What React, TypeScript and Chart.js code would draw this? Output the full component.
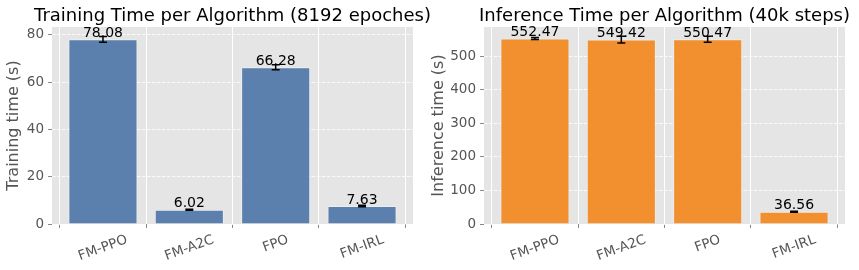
import React, { useEffect, useRef } from 'react';
import { Chart, registerables } from 'chart.js';

Chart.register(...registerables);

const categories = ['FM-PPO', 'FM-A2C', 'FPO', 'FM-IRL'];

const trainTimes = [78.08, 6.02, 66.28, 7.63];
const trainErrors = [1.2, 0.2, 1.1, 0.3];
const trainTicks = [0, 20, 40, 60, 80];
const trainYMax = 83.3;
const trainTitle = 'Training Time per Algorithm (8192 epoches)';
const trainYLabel = 'Training time (s)';

const inferTimes = [552.47, 549.42, 550.47, 36.56];
const inferErrors = [3, 10, 9, 1.5];
const inferTicks = [0, 100, 200, 300, 400, 500];
const inferYMax = 587;
const inferTitle = 'Inference Time per Algorithm (40k steps)';
const inferYLabel = 'Inference time (s)';

const FONT = "'DejaVu Sans', sans-serif";
const TICK_SIZE = 13.5;
const GRAY = '#555555';

type PanelProps = {
  width: number;
  height: number;
  values: number[];
  errors: number[];
  yTicks: number[];
  yMax: number;
  title: string;
  yLabel: string;
  color: string;
  yAxisWidth: number;
  rightPad: number;
  yLabelX: number;
};

function Panel(props: PanelProps) {
  const ref = useRef<HTMLCanvasElement | null>(null);
  useEffect(() => {
    const canvas = ref.current;
    if (!canvas) return;
    const {
      values, errors, yTicks, yMax, title, yLabel, color, yAxisWidth, rightPad, yLabelX,
    } = props;

    const decor = {
      id: 'decor',
      beforeDraw(chart: any) {
        const { ctx, chartArea } = chart;
        ctx.save();
        ctx.fillStyle = '#E5E5E5';
        ctx.fillRect(chartArea.left, chartArea.top, chartArea.right - chartArea.left, chartArea.bottom - chartArea.top);
        ctx.restore();
      },
      afterDatasetsDraw(chart: any) {
        const { ctx } = chart;
        const meta = chart.getDatasetMeta(0);
        const yScale = chart.scales.y;
        ctx.save();
        // error bars
        ctx.strokeStyle = '#000';
        ctx.lineWidth = 1.5;
        values.forEach((v, i) => {
          const bar = meta.data[i];
          const x = bar.x;
          const yTop = yScale.getPixelForValue(v + errors[i]);
          const yBot = yScale.getPixelForValue(v - errors[i]);
          ctx.beginPath();
          ctx.moveTo(x, yTop);
          ctx.lineTo(x, yBot);
          ctx.moveTo(x - 4, yTop);
          ctx.lineTo(x + 4, yTop);
          ctx.moveTo(x - 4, yBot);
          ctx.lineTo(x + 4, yBot);
          ctx.stroke();
        });
        // value labels
        ctx.fillStyle = '#000';
        ctx.font = `14px ${FONT}`;
        ctx.textAlign = 'center';
        ctx.textBaseline = 'bottom';
        values.forEach((v, i) => {
          const bar = meta.data[i];
          ctx.fillText(v.toFixed(2), bar.x, yScale.getPixelForValue(v) + 1);
        });
        ctx.restore();
      },
      afterDraw(chart: any) {
        const { ctx, chartArea } = chart;
        const xScale = chart.scales.x;
        ctx.save();
        // title
        ctx.fillStyle = '#000';
        ctx.font = `18px ${FONT}`;
        ctx.textAlign = 'center';
        ctx.textBaseline = 'alphabetic';
        ctx.fillText(title, (chartArea.left + chartArea.right) / 2, 21);
        // y label
        ctx.fillStyle = GRAY;
        ctx.font = `16px ${FONT}`;
        ctx.translate(yLabelX, (chartArea.top + chartArea.bottom) / 2);
        ctx.rotate(-Math.PI / 2);
        ctx.textAlign = 'center';
        ctx.textBaseline = 'middle';
        ctx.fillText(yLabel, 0, 0);
        ctx.restore();
        // x tick labels, rotated 20 degrees
        ctx.save();
        ctx.fillStyle = GRAY;
        ctx.font = `${TICK_SIZE}px ${FONT}`;
        ctx.textAlign = 'center';
        ctx.textBaseline = 'middle';
        const ang = (20 * Math.PI) / 180;
        const h = TICK_SIZE * 1.17;
        categories.forEach((c, i) => {
          const x = xScale.getPixelForValue(i);
          const w = ctx.measureText(c).width;
          const bboxH = w * Math.sin(ang) + h * Math.cos(ang);
          const cy = chartArea.bottom + 8 + bboxH / 2;
          ctx.save();
          ctx.translate(x, cy);
          ctx.rotate(-ang);
          ctx.fillText(c, 0, 0);
          ctx.restore();
        });
        ctx.restore();
      },
    };

    const chart = new Chart(canvas, {
      type: 'bar',
      data: {
        datasets: [
          {
            data: values.map((v, i) => ({ x: i, y: v })),
            backgroundColor: color,
            borderColor: 'rgba(255,255,255,0.35)',
            borderWidth: 1,
            categoryPercentage: 0.8,
            barPercentage: 1,
          } as any,
        ],
      },
      options: {
        responsive: false,
        animation: false,
        devicePixelRatio: 1,
        layout: { padding: { top: 27, right: rightPad, left: 0, bottom: 0 } },
        plugins: {
          legend: { display: false },
          tooltip: { enabled: false },
          title: { display: false },
        },
        scales: {
          x: {
            type: 'linear',
            min: -0.59,
            max: 3.59,
            offset: false,
            afterBuildTicks: (s: any) => {
              s.ticks = categories.map((_, i) => ({ value: i }));
            },
            afterFit: (s: any) => {
              s.height = 46;
            },
            ticks: { display: false },
            grid: {
              color: '#FFFFFF',
              lineWidth: 1,
              drawTicks: true,
              tickLength: 4,
              tickColor: '#888888',
            },
            border: { display: false },
          },
          y: {
            type: 'linear',
            min: 0,
            max: yMax,
            afterBuildTicks: (s: any) => {
              s.ticks = yTicks.map((v) => ({ value: v }));
            },
            afterFit: (s: any) => {
              s.width = yAxisWidth;
            },
            ticks: {
              font: { family: FONT, size: TICK_SIZE },
              color: GRAY,
              padding: 4,
            },
            grid: {
              color: 'rgba(255,255,255,0.8)',
              lineWidth: 1,
              drawTicks: true,
              tickLength: 4,
              tickColor: '#888888',
              tickBorderDash: [],
            } as any,
            border: { display: false, dash: [3.5, 1.5] },
          },
        } as any,
      },
      plugins: [decor],
    });
    return () => chart.destroy();
  }, []);
  return (
    <canvas
      ref={ref}
      width={props.width}
      height={props.height}
      style={{ display: 'block', width: props.width, height: props.height }}
    />
  );
}

export default function App() {
  return (
    <div
      style={{
        position: 'absolute',
        left: 0,
        top: 0,
        width: 859,
        height: 270,
        display: 'flex',
        background: '#fff',
      }}
    >
      <Panel
        width={430}
        height={270}
        values={trainTimes}
        errors={trainErrors}
        yTicks={trainTicks}
        yMax={trainYMax}
        title={trainTitle}
        yLabel={trainYLabel}
        color="#5B80AD"
        yAxisWidth={52}
        rightPad={17}
        yLabelX={14}
      />
      <Panel
        width={429}
        height={270}
        values={inferTimes}
        errors={inferErrors}
        yTicks={inferTicks}
        yMax={inferYMax}
        title={inferTitle}
        yLabel={inferYLabel}
        color="#F28F2E"
        yAxisWidth={54}
        rightPad={14}
        yLabelX={9}
      />
    </div>
  );
}
